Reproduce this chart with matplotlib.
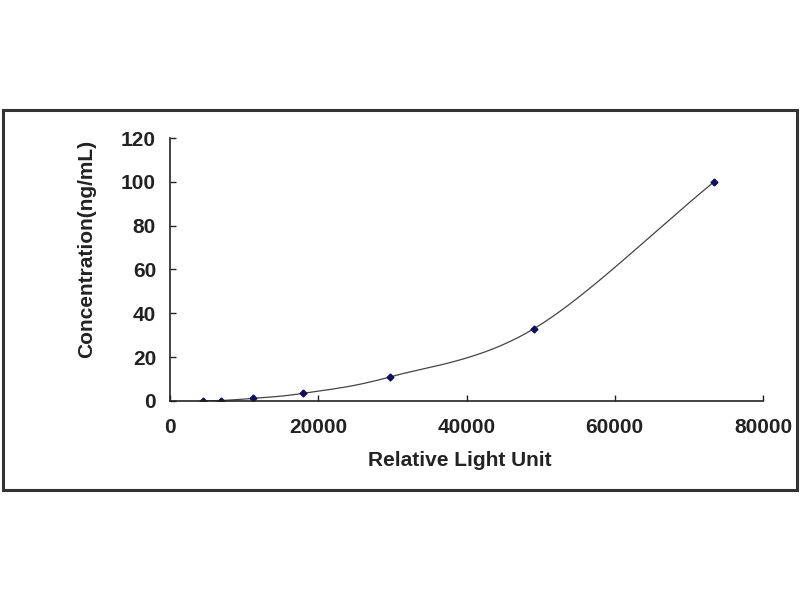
import numpy as np
import matplotlib
matplotlib.use('Agg')
import matplotlib.pyplot as plt
from matplotlib.patches import Rectangle

plt.rcParams['font.family'] = ['Liberation Sans', 'DejaVu Sans']

# standard curve points
rlu = [4450, 6880, 11200, 17950, 29700, 49100, 73400]
conc = [0.0, 0.2, 1.2, 3.5, 11.0, 33.0, 100.0]


def smooth(xs, ys, n=40):
    # catmull-rom style smoothing like the spreadsheet "smoothed line"
    xs = np.asarray(xs, float)
    ys = np.asarray(ys, float)
    px = np.concatenate([[2 * xs[0] - xs[1]], xs, [2 * xs[-1] - xs[-2]]])
    py = np.concatenate([[2 * ys[0] - ys[1]], ys, [2 * ys[-1] - ys[-2]]])
    outx, outy = [], []
    t = np.linspace(0, 1, n)
    for i in range(1, len(px) - 2):
        for p, out in ((px, outx), (py, outy)):
            p0, p1, p2, p3 = p[i - 1], p[i], p[i + 1], p[i + 2]
            out.extend(0.5 * ((2 * p1) + (-p0 + p2) * t +
                              (2 * p0 - 5 * p1 + 4 * p2 - p3) * t ** 2 +
                              (-p0 + 3 * p1 - 3 * p2 + p3) * t ** 3))
    return np.array(outx), np.array(outy)


fig = plt.figure(figsize=(8, 6), dpi=100)
fig.patches.append(Rectangle((3 / 800, 1 - 490 / 600), 794 / 800, 380 / 600,
                             transform=fig.transFigure, fill=False,
                             edgecolor='#333333', linewidth=2.2))

ax = fig.add_axes([0.2125, 0.3317, 0.7413, 0.4383])
sx, sy = smooth(rlu, conc)
ax.plot(sx, sy, color='#444444', linewidth=0.9)
ax.plot(rlu, conc, linestyle='none', marker='D', markersize=3.5,
        color='#10105a')

ax.set_xlim(0, 80000)
ax.set_ylim(0, 120)
ax.set_xticks(range(0, 80001, 20000))
ax.set_yticks(range(0, 121, 20))
for s in ['top', 'right']:
    ax.spines[s].set_visible(False)
for s in ['left', 'bottom']:
    ax.spines[s].set_color('#222222')
    ax.spines[s].set_linewidth(1.2)
ax.tick_params(direction='in', length=4, width=1, colors='#222222',
               labelsize=15)
ax.tick_params(axis='x', pad=12)
ax.tick_params(axis='y', pad=10)
for lab in ax.get_xticklabels() + ax.get_yticklabels():
    lab.set_fontweight('bold')
    lab.set_color('#222222')

ax.set_xlabel('Relative Light Unit', fontsize=15, fontweight='bold',
              color='#222222')
ax.set_ylabel('Concentration(ng/mL)', fontsize=15, fontweight='bold',
              color='#222222')
ax.xaxis.set_label_coords(0.489, -0.19)
ax.yaxis.set_label_coords(-0.125, 0.578)

fig.savefig('out.png', dpi=100)
